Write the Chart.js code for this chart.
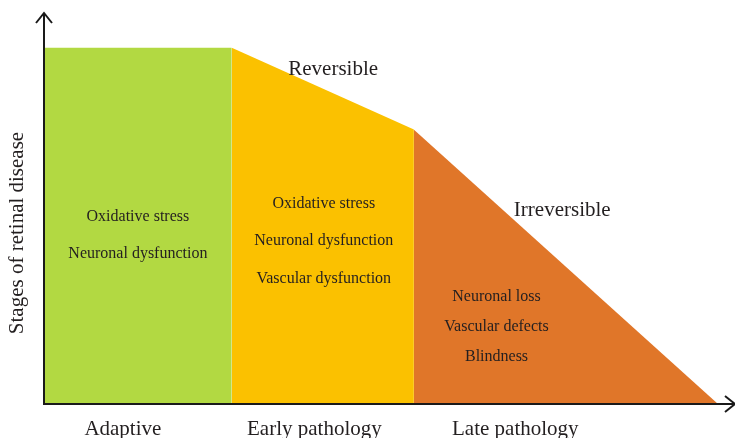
<!DOCTYPE html>
<html lang="en">
<head>
    <meta charset="UTF-8">
    <title>Stages of retinal disease</title>
    <script src="https://cdn.jsdelivr.net/npm/chart.js"></script>
    <style>
        html, body { margin: 0; padding: 0; background: #fff; }
        #wrap { width: 735px; height: 438px; }
    </style>
</head>
<body>
    <div id="wrap"><canvas id="stagesChart" width="735" height="438"></canvas></div>
    <script>
        // stage boundaries (x) and disease level (y)
        const adaptivePts = [{ x: 0, y: 10 }, { x: 1, y: 10 }];
        const earlyPts = [{ x: 1, y: 10 }, { x: 1.97, y: 7.7 }];
        const latePts = [{ x: 1.97, y: 7.7 }, { x: 3.59, y: 0 }];

        const stageLabels = ['Adaptive', 'Early pathology', 'Late pathology'];
        const stageTicks = [0.42, 1.44, 2.51];
        const yTitle = 'Stages of retinal disease';

        const adaptiveText = ['Oxidative stress', 'Neuronal dysfunction'];
        const earlyText = ['Oxidative stress', 'Neuronal dysfunction', 'Vascular dysfunction'];
        const lateText = ['Neuronal loss', 'Vascular defects', 'Blindness'];

        const serif = '"Liberation Serif", "DejaVu Serif", serif';
        const ink = '#231f20';

        // text annotations placed in data coordinates
        const notes = [
            { lines: ['Reversible'], x: 1.54, y: 9.4, size: 21, gap: 0 },
            { lines: ['Irreversible'], x: 2.76, y: 5.44, size: 21, gap: 0 },
            { lines: adaptiveText, x: 0.5, y: 5.25, size: 16, gap: 1.04 },
            { lines: earlyText, x: 1.49, y: 5.62, size: 16, gap: 1.05 },
            { lines: lateText, x: 2.41, y: 3.01, size: 16, gap: 0.84 }
        ];

        const annotate = {
            id: 'annotate',
            afterDraw(chart) {
                const { ctx, scales: { x, y }, chartArea } = chart;
                ctx.save();
                ctx.fillStyle = ink;
                ctx.textAlign = 'center';
                ctx.textBaseline = 'middle';
                notes.forEach(n => {
                    ctx.font = n.size + 'px ' + serif;
                    n.lines.forEach((t, i) => {
                        ctx.fillText(t, x.getPixelForValue(n.x), y.getPixelForValue(n.y - i * n.gap));
                    });
                });

                // y axis title
                ctx.font = '21px ' + serif;
                ctx.translate(17, 233);
                ctx.rotate(-Math.PI / 2);
                ctx.fillText(yTitle, 0, 0);
                ctx.restore();

                // axis lines and arrow heads
                const l = chartArea.left, b = chartArea.bottom;
                ctx.save();
                ctx.strokeStyle = '#1a1a1a';
                ctx.lineWidth = 2;
                ctx.beginPath();
                ctx.moveTo(l, chartArea.top + 1);
                ctx.lineTo(l, b + 1);
                ctx.moveTo(l - 1, b);
                ctx.lineTo(chartArea.right, b);
                ctx.stroke();
                ctx.beginPath();
                ctx.moveTo(l - 8, chartArea.top + 11);
                ctx.lineTo(l, chartArea.top + 1);
                ctx.lineTo(l + 8, chartArea.top + 11);
                ctx.moveTo(chartArea.right - 10, b - 8);
                ctx.lineTo(chartArea.right, b);
                ctx.lineTo(chartArea.right - 10, b + 8);
                ctx.stroke();
                ctx.restore();
            }
        };

        function area(data, color) {
            return {
                data: data,
                backgroundColor: color,
                borderWidth: 0,
                pointRadius: 0,
                fill: 'origin',
                tension: 0
            };
        }

        new Chart(document.getElementById('stagesChart'), {
            type: 'line',
            data: {
                datasets: [
                    area(adaptivePts, '#b2d942'),
                    area(earlyPts, '#fbc100'),
                    area(latePts, '#e07629')
                ]
            },
            options: {
                responsive: false,
                animation: false,
                layout: { padding: { top: 12, right: 0, left: 0, bottom: 0 } },
                plugins: { legend: { display: false }, tooltip: { enabled: false } },
                scales: {
                    x: {
                        type: 'linear',
                        min: 0,
                        max: 3.68,
                        grid: { display: false, drawTicks: false },
                        border: { display: false },
                        afterBuildTicks: s => { s.ticks = stageTicks.map(v => ({ value: v })); },
                        afterFit: s => { s.height = 34; },
                        ticks: {
                            autoSkip: false,
                            maxRotation: 0,
                            padding: 13,
                            color: ink,
                            font: { family: serif, size: 21 },
                            callback: (v, i) => stageLabels[i]
                        }
                    },
                    y: {
                        min: 0,
                        max: 11,
                        grid: { display: false, drawTicks: false },
                        border: { display: false },
                        ticks: { display: false },
                        afterFit: s => { s.width = 44; }
                    }
                }
            },
            plugins: [annotate]
        });
    </script>
</body>
</html>
